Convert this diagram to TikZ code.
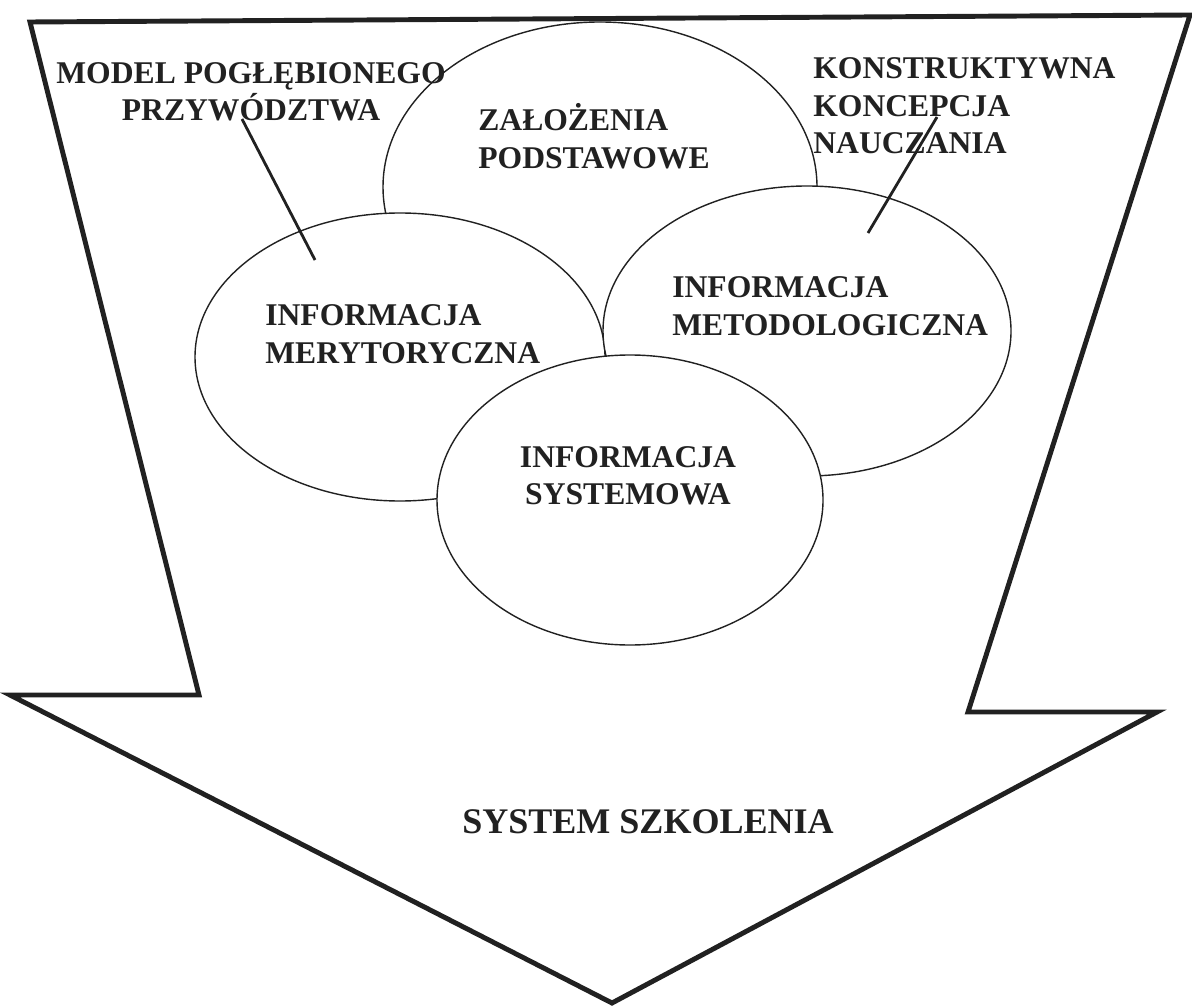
\documentclass[tikz,border=0pt]{standalone}
\usepackage{fontspec}
\setmainfont{Liberation Serif}
\usetikzlibrary{calc}
\definecolor{ink}{gray}{0.13}

\begin{document}
\begin{tikzpicture}[
    x=0.02cm, y=-0.02cm,
    bigarrow/.style={draw=ink,line width=2.8pt,line join=miter},
    bubble/.style={draw=ink,fill=white,line width=0.8pt},
    tagtext/.style={text=ink,inner sep=0pt,align=left,
                    font=\fontsize{18}{21.3}\selectfont\bfseries},
    bigtext/.style={text=ink,inner sep=0pt,
                    font=\fontsize{20.5}{24}\selectfont\bfseries},
    pointer/.style={draw=ink,line width=1.6pt},
  ]
  \useasboundingbox (0,0) rectangle (1192,1006);

  % ---------------------------------------------------------------- circles
  \coordinate (zal) at (600,187);
  \coordinate (mer) at (400,357);
  \coordinate (met) at (807,331);
  \coordinate (sys) at (630,500);
  \filldraw[bubble] (zal) ellipse [x radius=217, y radius=165];
  \filldraw[bubble] (mer) ellipse [x radius=205, y radius=144];
  \filldraw[bubble] (met) ellipse [x radius=204, y radius=145];
  \filldraw[bubble] (sys) ellipse [x radius=193, y radius=145];

  % ---------------------------------------------------------------- big arrow
  \draw[bigarrow] (30,22) -- (1190,15) -- (968,712) -- (1157,712)
    -- (612,1003) -- (10,695) -- (199,695) -- cycle;

  % ---------------------------------------------------------------- labels
  \node[tagtext,align=center] (model) at (251,92) {MODEL POGŁĘBIONEGO\\PRZYWÓDZTWA};
  \node[tagtext,anchor=west] (zaltxt) at (478,136) {ZAŁOŻENIA\\PODSTAWOWE};
  \node[tagtext,anchor=west] (konstr) at (813,106) {KONSTRUKTYWNA\\KONCEPCJA\\NAUCZANIA};
  \node[tagtext,anchor=west] (mertxt) at (265,334) {INFORMACJA\\MERYTORYCZNA};
  \node[tagtext,anchor=west] (mettxt) at (672,306) {INFORMACJA\\METODOLOGICZNA};
  \node[tagtext,align=center] (systxt) at (628,476) {INFORMACJA\\SYSTEMOWA};
  \node[bigtext] (szkol) at (648,822) {SYSTEM SZKOLENIA};

  % ---------------------------------------------------------------- pointers
  \coordinate (model-a) at (242,119);
  \coordinate (model-b) at (315,260);
  \coordinate (konstr-a) at (937,117);
  \coordinate (konstr-b) at (868,233);
  \draw[pointer] (model-a) -- (model-b);
  \draw[pointer] (konstr-a) -- (konstr-b);
\end{tikzpicture}
\end{document}
